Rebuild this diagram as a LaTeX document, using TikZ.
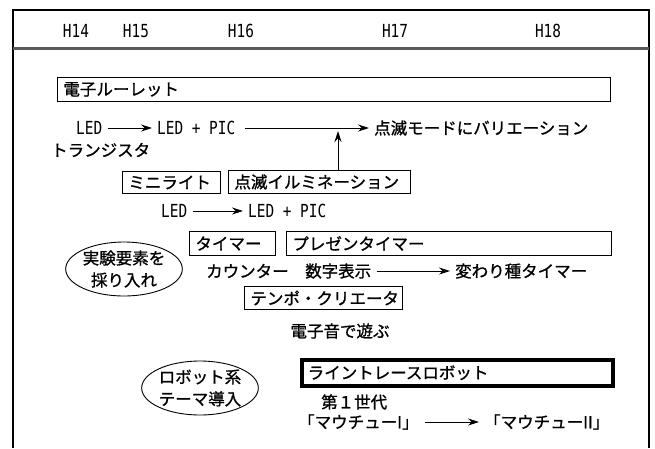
\documentclass[tikz,border=0pt]{standalone}
\usepackage{fontspec}
\setmainfont{Noto Sans CJK JP}[FakeBold=1]
\newfontfamily\latn{DejaVu Sans Mono}[FakeStretch=0.8]
\usetikzlibrary{arrows.meta,shapes.geometric}
\begin{document}
\begin{tikzpicture}[x=1pt,y=-1pt,
  txt/.style={inner xsep=0pt, inner ysep=1pt, font=\fontsize{16.5}{18}\selectfont},
  lat/.style={inner xsep=0pt, inner ysep=1pt, font=\latn\fontsize{18}{20}\selectfont},
  wtxt/.style={txt, anchor=west},
  wlat/.style={lat, anchor=west},
  box/.style={draw, line width=0.9pt, anchor=north west, inner xsep=6pt, inner ysep=0pt, align=left, font=\fontsize{16.5}{18}\selectfont},
  thickbox/.style={box, line width=3.5pt},
  oval/.style={draw, ellipse, line width=0.9pt, inner sep=0pt, align=center, font=\fontsize{16.5}{22}\selectfont},
  tip/.style={-{Stealth[length=11pt,width=7pt]}, line width=0.8pt},
  arr/.style={tip, shorten <=6pt, shorten >=5pt},
  frame/.style={line width=1.4pt}
]
\useasboundingbox (0,0) rectangle (655,448);
% frame
\draw[frame] (13,448) -- (13,10) -- (649,10) -- (649,448);
\draw[line width=2.4pt, black!65] (13,48.5) -- (649,48.5);
% header
\node[lat] (h14) at (76,31) {H14};
\node[lat] (h15) at (136,31) {H15};
\node[lat] (h16) at (241,31) {H16};
\node[lat] (h17) at (395,31) {H17};
\node[lat] (h18) at (548,31) {H18};
% boxes
\node[box, text width=541pt, minimum height=24pt] (roul) at (57,77) {電子ルーレット};
\node[box, text width=86pt, minimum height=22pt] (mini) at (122,171) {ミニライト};
\node[box, text width=170pt, minimum height=23pt] (illum) at (228,170) {点滅イルミネーション};
\node[box, text width=74pt, minimum height=24pt] (timer) at (189,231) {タイマー};
\node[box, text width=313pt, minimum height=24pt] (presen) at (286,231) {プレゼンタイマー};
\node[box, text width=146pt, minimum height=23pt] (tempo) at (244,286) {テンポ・クリエータ};
\node[thickbox, text width=299pt, minimum height=26pt] (line) at (300,358) {ライントレースロボット};
% row 1
\node[wlat] (led1) at (76,128) {LED};
\node[wlat] (lp1) at (157,128) {LED + PIC};
\node[wtxt] (var1) at (374,128) {点滅モードにバリエーション};
\node[wtxt] (tr) at (51,150) {トランジスタ};
\draw[arr] (led1) -- (lp1);
\draw[arr, shorten <=10pt] (lp1) -- (var1);
\coordinate (vj) at (338,131);
\draw[tip] (illum.north -| vj) -- (vj);
% row 2
\node[wlat] (led2) at (161,211) {LED};
\node[wlat] (lp2) at (248,211) {LED + PIC};
\draw[arr] (led2) -- (lp2);
% timer row
\node[oval, minimum width=112pt, minimum height=54pt] (exp) at (124,269) {実験要素を\\採り入れ};
\node[wtxt] (cnt) at (206,271) {カウンター};
\node[wtxt] (dig) at (305,271) {数字表示};
\node[wtxt] (kaw) at (455,271) {変わり種タイマー};
\draw[arr] (dig) -- (kaw);
\node[txt] (den) at (340,331) {電子音で遊ぶ};
% robot
\node[oval, minimum width=108pt, minimum height=54pt] (rob) at (200,388) {ロボット系\\テーマ導入};
\node[wtxt] (dai) at (321,402) {第１世代};
\node[wtxt] (m1) at (298,422) {「マウチューI」};
\node[wtxt] (m2) at (484,422) {「マウチューII」};
\draw[arr] (m1) -- (m2);
\end{tikzpicture}
\end{document}
